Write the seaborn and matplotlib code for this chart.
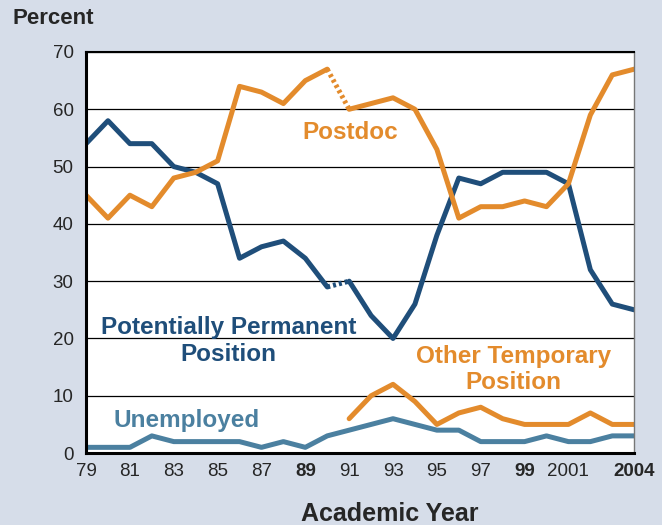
import numpy as np
import pandas as pd
import matplotlib
matplotlib.use("Agg")
import matplotlib.pyplot as plt
import seaborn as sns

sns.set_style("white")
plt.rcParams["font.family"] = ["Liberation Sans", "DejaVu Sans"]

BG = "#D6DDE9"
BLUE = "#1F4E7A"
ORANGE = "#E38B2C"
STEEL = "#4B80A0"

years = list(range(1979, 2005))
permanent = [54, 58, 54, 54, 50, 49, 47, 34, 36, 37, 34, 29,
             30, 24, 20, 26, 38, 48, 47, 49, 49, 49, 47, 32, 26, 25]
postdoc = [45, 41, 45, 43, 48, 49, 51, 64, 63, 61, 65, 67,
           60, 61, 62, 60, 53, 41, 43, 43, 44, 43, 47, 59, 66, 67]
other_temp = [np.nan] * 12 + [6, 10, 12, 9, 5, 7, 8, 6, 5, 5, 5, 7, 5, 5]
unemployed = [1, 1, 1, 3, 2, 2, 2, 2, 1, 2, 1, 3,
              4, 5, 6, 5, 4, 4, 2, 2, 2, 3, 2, 2, 3, 3]

tick_years = [1979, 1981, 1983, 1985, 1987, 1989, 1991, 1993, 1995, 1997, 1999, 2001, 2004]
tick_labels = ["79", "81", "83", "85", "87", "89", "91", "93", "95", "97", "99", "2001", "2004"]

df = pd.DataFrame({"year": years, "permanent": permanent, "postdoc": postdoc,
                   "other": other_temp, "unemployed": unemployed})
# 1990 -> 1991 is drawn dotted (break in series)
before = df[df["year"] <= 1990]
gap = df[(df["year"] >= 1990) & (df["year"] <= 1991)]
after = df[df["year"] >= 1991]

fig = plt.figure(figsize=(6.62, 5.25), dpi=100, facecolor=BG)
ax = fig.add_axes([0.130, 0.137, 0.828, 0.764])
ax.set_facecolor("white")

lw = 3.6
for col, color in [("permanent", BLUE), ("postdoc", ORANGE)]:
    sns.lineplot(data=before, x="year", y=col, color=color, lw=lw, ax=ax)
    sns.lineplot(data=gap, x="year", y=col, color=color, lw=lw, ax=ax,
                 linestyle=(0, (0.6, 0.6)))
    sns.lineplot(data=after, x="year", y=col, color=color, lw=lw, ax=ax)
sns.lineplot(data=df.dropna(subset=["other"]), x="year", y="other", color=ORANGE, lw=lw, ax=ax)
sns.lineplot(data=df, x="year", y="unemployed", color=STEEL, lw=lw, ax=ax)

ax.set_xlim(1979, 2004)
ax.set_ylim(0, 70)
ax.set_yticks(range(0, 71, 10))
ax.yaxis.grid(True, color="black", lw=0.9)
ax.set_axisbelow(True)
ax.set_xticks(tick_years)
ax.set_xticklabels(tick_labels)
ax.set_xticks(years, minor=True)
ax.tick_params(axis="x", which="both", direction="in", length=6, width=1, color="black",
               labelsize=13.5, pad=7)
ax.tick_params(axis="y", length=0, labelsize=13.5, pad=9)
for lab in ax.get_xticklabels():
    if lab.get_text() in ("89", "99", "2004"):
        lab.set_fontweight("bold")

for side in ["left", "bottom"]:
    ax.spines[side].set_linewidth(2.2)
    ax.spines[side].set_color("black")
ax.spines["top"].set_linewidth(1.5)
ax.spines["top"].set_color("black")
ax.spines["right"].set_linewidth(1.0)
ax.spines["right"].set_color("#777777")

ax.set_xlabel("")
ax.set_ylabel("")
fig.text(0.019, 0.964, "Percent", fontsize=16, fontweight="bold", ha="left", va="center")
fig.text(0.589, 0.021, "Academic Year", fontsize=18, fontweight="bold", ha="center", va="center")

lab_kw = dict(fontsize=17.5, fontweight="bold", ha="center", va="center", linespacing=1.2)
ax.text(1991.05, 56.0, "Postdoc", color=ORANGE, **lab_kw)
ax.text(1985.5, 19.6, "Potentially Permanent\nPosition", color=BLUE, **lab_kw)
ax.text(1998.5, 14.6, "Other Temporary\nPosition", color=ORANGE, **lab_kw)
ax.text(1983.6, 5.6, "Unemployed", color=STEEL, **lab_kw)

plt.savefig("out.png", dpi=100, facecolor=BG)
plt.close()
